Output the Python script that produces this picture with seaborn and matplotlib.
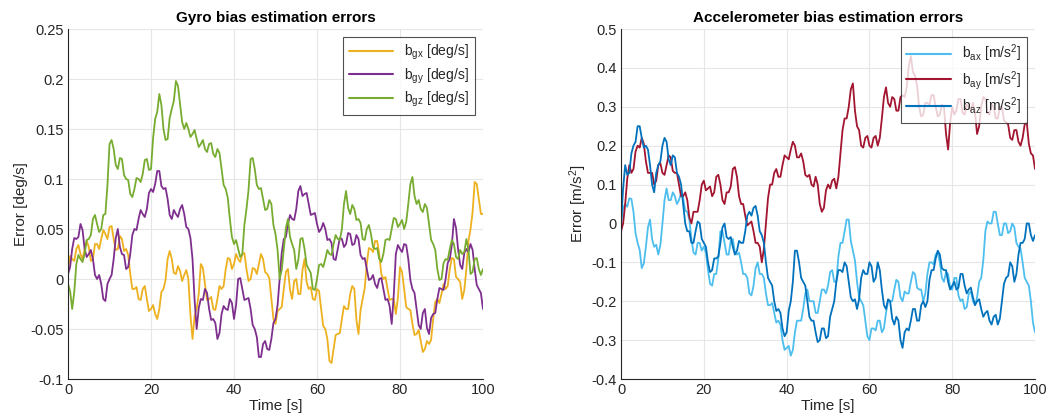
import numpy as np
import pandas as pd
import matplotlib
matplotlib.use("Agg")
import matplotlib.pyplot as plt
import seaborn as sns

time_s = [float(i) for i in range(0, 101)]
time_half = [i + 0.5 for i in range(0, 100)]

# ---- Gyro bias errors [deg/s], whole seconds ----
b_gx = [0.010, 0.020, 0.030, 0.025, 0.030, 0.032, 0.020, 0.035, 0.040, 0.045,
        0.052, 0.040, 0.030, 0.040, 0.030, 0.005, -0.010, -0.020, -0.010, -0.020,
        -0.030, -0.035, -0.030, -0.010, 0.020, 0.020, 0.005, 0.008, 0.004, 0.000,
        -0.060, -0.030, 0.015, -0.005, -0.020, -0.030, -0.020, -0.010, 0.010, 0.020,
        0.015, 0.020, 0.025, 0.010, 0.000, 0.010, 0.015, 0.020, 0.005, -0.020,
        -0.045, -0.030, -0.010, 0.010, -0.020, 0.000, -0.015, 0.020, -0.010, -0.020,
        -0.010, -0.030, -0.050, -0.082, -0.070, -0.055, -0.040, -0.030, -0.015, -0.010,
        -0.055, -0.020, 0.015, 0.030, 0.038, 0.025, 0.000, -0.010, -0.020, -0.035,
        0.012, -0.010, -0.030, -0.045, -0.055, -0.062, -0.070, -0.065, -0.040, -0.020,
        -0.015, -0.010, 0.010, 0.020, 0.000, -0.020, 0.010, 0.050, 0.097, 0.080,
        0.065]
# half-second samples (noise between whole seconds)
b_gx_half = [0.023, 0.018, 0.034, 0.020, 0.038, 0.018, 0.035, 0.030, 0.049, 0.040,
             0.053, 0.029, 0.043, 0.028, 0.024, -0.010, -0.008, -0.021, -0.007, -0.032,
             -0.026, -0.040, -0.013, -0.001, 0.028, 0.006, 0.013, -0.002, 0.009, -0.036,
             -0.037, -0.015, 0.011, -0.021, -0.018, -0.031, -0.007, -0.007, 0.021, 0.010,
             0.025, 0.017, 0.026, -0.002, 0.011, 0.005, 0.025, 0.007, 0.001, -0.040,
             -0.032, -0.028, 0.007, -0.011, -0.002, -0.015, 0.009, -0.003, -0.008, -0.021,
             -0.012, -0.047, -0.060, -0.084, -0.056, -0.054, -0.027, -0.030, -0.007, -0.041,
             -0.031, -0.009, 0.031, 0.027, 0.038, 0.005, 0.002, -0.021, -0.020, -0.019,
             0.007, -0.028, -0.031, -0.056, -0.051, -0.073, -0.062, -0.061, -0.023, -0.024,
             -0.005, -0.007, 0.021, 0.002, -0.003, -0.011, 0.038, 0.067, 0.095, 0.065]

b_gy = [0.005, 0.030, 0.040, 0.055, 0.030, 0.025, 0.020, 0.000, -0.005, -0.022,
        0.000, 0.020, 0.050, 0.025, 0.010, 0.025, 0.050, 0.060, 0.065, 0.070,
        0.090, 0.095, 0.108, 0.090, 0.080, 0.060, 0.065, 0.070, 0.065, 0.050,
        0.020, -0.050, -0.020, -0.010, -0.030, -0.040, -0.060, -0.035, -0.030, -0.020,
        -0.040, 0.000, -0.010, -0.020, -0.030, -0.050, -0.078, -0.065, -0.070, -0.060,
        -0.040, 0.000, 0.040, 0.055, 0.060, 0.070, 0.093, 0.085, 0.075, 0.065,
        0.055, 0.050, 0.050, 0.040, 0.020, 0.030, 0.040, 0.035, 0.045, 0.035,
        0.040, 0.020, 0.010, 0.000, -0.005, 0.000, -0.010, -0.020, -0.045, 0.025,
        0.030, 0.035, 0.020, -0.010, -0.030, -0.050, -0.030, -0.055, -0.035, -0.020,
        -0.010, 0.000, 0.020, 0.060, 0.030, 0.010, 0.030, 0.035, 0.010, -0.010,
        -0.030]
b_gy_half = [0.012, 0.041, 0.042, 0.049, 0.022, 0.029, 0.004, 0.004, -0.020, -0.005,
             0.004, 0.041, 0.032, 0.024, 0.012, 0.044, 0.049, 0.069, 0.062, 0.086,
             0.087, 0.108, 0.093, 0.091, 0.064, 0.069, 0.062, 0.074, 0.052, 0.041,
             -0.021, -0.029, -0.021, -0.014, -0.041, -0.044, -0.054, -0.027, -0.031, -0.024,
             -0.026, 0.001, -0.021, -0.019, -0.046, -0.058, -0.078, -0.062, -0.071, -0.044,
             -0.026, 0.026, 0.042, 0.064, 0.059, 0.088, 0.083, 0.086, 0.064, 0.066,
             0.047, 0.056, 0.039, 0.036, 0.019, 0.041, 0.032, 0.046, 0.034, 0.044,
             0.024, 0.021, -0.001, 0.004, -0.009, 0.001, -0.021, -0.027, -0.016, 0.034,
             0.027, 0.034, -0.001, -0.014, -0.046, -0.034, -0.049, -0.039, -0.034, -0.009,
             -0.011, 0.016, 0.034, 0.051, 0.014, 0.026, 0.027, 0.029, -0.006, -0.014]

b_gz = [-0.005, -0.030, 0.015, 0.020, 0.025, 0.040, 0.060, 0.055, 0.050, 0.065,
        0.135, 0.130, 0.110, 0.120, 0.100, 0.085, 0.090, 0.100, 0.105, 0.120,
        0.110, 0.160, 0.185, 0.150, 0.140, 0.170, 0.198, 0.175, 0.150, 0.150,
        0.145, 0.140, 0.135, 0.130, 0.135, 0.125, 0.130, 0.110, 0.090, 0.060,
        0.035, 0.030, 0.025, 0.070, 0.120, 0.110, 0.090, 0.080, 0.070, 0.075,
        0.045, 0.000, 0.030, 0.060, 0.035, 0.010, 0.040, 0.030, 0.010, -0.010,
        0.000, 0.015, 0.020, 0.025, 0.035, 0.040, 0.050, 0.088, 0.065, 0.070,
        0.060, 0.040, 0.050, 0.045, 0.030, 0.020, 0.025, 0.040, 0.050, 0.060,
        0.055, 0.050, 0.075, 0.102, 0.075, 0.070, 0.075, 0.055, 0.035, 0.010,
        0.000, 0.020, 0.030, 0.035, 0.020, 0.025, 0.040, 0.005, 0.020, 0.010,
        0.010]
b_gz_half = [-0.012, -0.013, 0.024, 0.017, 0.039, 0.044, 0.064, 0.047, 0.064, 0.094,
             0.139, 0.114, 0.121, 0.104, 0.099, 0.082, 0.101, 0.097, 0.119, 0.109,
             0.141, 0.167, 0.174, 0.139, 0.161, 0.178, 0.193, 0.157, 0.156, 0.142,
             0.149, 0.132, 0.139, 0.127, 0.136, 0.122, 0.126, 0.094, 0.081, 0.042,
             0.039, 0.022, 0.054, 0.089, 0.121, 0.094, 0.091, 0.069, 0.079, 0.054,
             0.029, 0.009, 0.051, 0.042, 0.029, 0.019, 0.041, 0.014, 0.006, -0.011,
             0.014, 0.012, 0.029, 0.024, 0.044, 0.039, 0.075, 0.071, 0.074, 0.059,
             0.056, 0.039, 0.054, 0.032, 0.031, 0.017, 0.039, 0.039, 0.061, 0.052,
             0.059, 0.057, 0.095, 0.083, 0.079, 0.067, 0.071, 0.039, 0.029, -0.001,
             0.016, 0.019, 0.039, 0.022, 0.029, 0.027, 0.029, 0.007, 0.021, 0.004]

# ---- Accelerometer bias errors [m/s^2] ----
b_ax = [0.000, 0.050, 0.065, 0.030, -0.050, -0.115, -0.060, 0.010, -0.060, -0.080,
        0.000, 0.090, 0.060, 0.070, 0.060, 0.065, 0.030, -0.040, -0.080, -0.050,
        -0.060, -0.120, -0.160, -0.130, -0.020, -0.050, -0.080, -0.040, -0.080, -0.100,
        -0.130, -0.180, -0.160, -0.100, -0.130, -0.180, -0.210, -0.230, -0.250, -0.300,
        -0.320, -0.340, -0.280, -0.250, -0.220, -0.170, -0.200, -0.230, -0.200, -0.170,
        -0.160, -0.120, -0.150, -0.050, -0.020, 0.010, -0.070, -0.150, -0.200, -0.250,
        -0.300, -0.270, -0.250, -0.280, -0.230, -0.200, -0.170, -0.150, -0.200, -0.180,
        -0.150, -0.130, -0.170, -0.200, -0.130, -0.100, -0.080, -0.100, -0.150, -0.130,
        -0.170, -0.140, -0.200, -0.220, -0.180, -0.200, -0.190, -0.140, -0.020, 0.000,
        0.030, 0.000, -0.030, 0.000, -0.020, -0.010, -0.060, -0.100, -0.150, -0.200,
        -0.280]
b_ax_half = [0.040, 0.043, 0.063, -0.025, -0.068, -0.103, -0.010, -0.040, -0.055, -0.055,
             0.060, 0.060, 0.080, 0.050, 0.078, 0.033, 0.010, -0.075, -0.050, -0.070,
             -0.075, -0.155, -0.130, -0.090, -0.020, -0.080, -0.045, -0.075, -0.075, -0.130,
             -0.140, -0.185, -0.115, -0.130, -0.140, -0.210, -0.205, -0.255, -0.260, -0.325,
             -0.315, -0.325, -0.250, -0.250, -0.180, -0.200, -0.200, -0.230, -0.170, -0.180,
             -0.125, -0.150, -0.085, -0.050, 0.010, -0.045, -0.095, -0.190, -0.210, -0.290,
             -0.270, -0.275, -0.250, -0.270, -0.200, -0.200, -0.145, -0.190, -0.175, -0.180,
             -0.125, -0.165, -0.170, -0.180, -0.100, -0.105, -0.075, -0.140, -0.125, -0.165,
             -0.140, -0.185, -0.195, -0.215, -0.175, -0.210, -0.150, -0.095, 0.005, 0.000,
             0.030, -0.030, 0.000, -0.025, 0.000, -0.050, -0.065, -0.140, -0.160, -0.255]

b_ay = [-0.020, 0.050, 0.150, 0.140, 0.200, 0.220, 0.160, 0.130, 0.100, 0.150,
        0.130, 0.150, 0.170, 0.130, 0.100, 0.070, 0.060, 0.000, 0.030, 0.060,
        0.110, 0.090, 0.070, 0.120, 0.100, 0.050, 0.080, 0.140, 0.120, 0.050,
        0.020, 0.000, -0.020, -0.050, -0.100, 0.000, 0.100, 0.130, 0.120, 0.150,
        0.170, 0.190, 0.200, 0.170, 0.160, 0.120, 0.100, 0.120, 0.050, 0.040,
        0.100, 0.110, 0.090, 0.180, 0.270, 0.300, 0.360, 0.250, 0.200, 0.220,
        0.200, 0.220, 0.200, 0.270, 0.350, 0.300, 0.320, 0.290, 0.330, 0.350,
        0.430, 0.380, 0.300, 0.280, 0.310, 0.330, 0.300, 0.280, 0.300, 0.190,
        0.300, 0.290, 0.320, 0.280, 0.300, 0.310, 0.230, 0.300, 0.320, 0.280,
        0.300, 0.270, 0.300, 0.260, 0.220, 0.240, 0.210, 0.220, 0.260, 0.180,
        0.140]
b_ay_half = [0.000, 0.115, 0.130, 0.185, 0.195, 0.205, 0.130, 0.130, 0.110, 0.155,
             0.125, 0.175, 0.135, 0.130, 0.070, 0.080, 0.015, 0.030, 0.030, 0.100,
             0.085, 0.095, 0.080, 0.125, 0.060, 0.080, 0.095, 0.145, 0.070, 0.050,
             -0.005, 0.005, -0.050, -0.060, -0.065, 0.065, 0.100, 0.140, 0.120, 0.175,
             0.165, 0.210, 0.170, 0.180, 0.125, 0.125, 0.095, 0.100, 0.030, 0.085,
             0.090, 0.115, 0.120, 0.240, 0.270, 0.345, 0.290, 0.240, 0.195, 0.225,
             0.195, 0.225, 0.220, 0.325, 0.310, 0.325, 0.290, 0.325, 0.325, 0.405,
             0.390, 0.355, 0.275, 0.310, 0.305, 0.330, 0.275, 0.305, 0.230, 0.260,
             0.280, 0.320, 0.285, 0.305, 0.290, 0.285, 0.250, 0.325, 0.285, 0.305,
             0.270, 0.300, 0.265, 0.255, 0.215, 0.240, 0.200, 0.255, 0.205, 0.175]

b_az = [0.000, 0.150, 0.130, 0.200, 0.250, 0.220, 0.200, 0.150, 0.080, 0.150,
        0.200, 0.210, 0.150, 0.170, 0.120, 0.050, -0.020, -0.050, -0.020, 0.000,
        -0.050, -0.100, -0.120, -0.090, -0.050, 0.000, -0.040, -0.060, -0.070, -0.050,
        -0.020, 0.030, 0.040, 0.020, -0.030, -0.100, -0.150, -0.200, -0.220, -0.270,
        -0.280, -0.200, -0.070, -0.100, -0.150, -0.200, -0.250, -0.280, -0.300, -0.270,
        -0.290, -0.220, -0.150, -0.120, -0.100, -0.150, -0.200, -0.220, -0.140, -0.130,
        -0.100, -0.150, -0.100, -0.170, -0.220, -0.200, -0.260, -0.250, -0.320, -0.270,
        -0.250, -0.220, -0.250, -0.200, -0.200, -0.120, -0.090, -0.080, -0.120, -0.150,
        -0.160, -0.170, -0.130, -0.160, -0.170, -0.190, -0.200, -0.220, -0.230, -0.250,
        -0.240, -0.260, -0.200, -0.140, -0.100, -0.150, -0.080, -0.050, 0.000, -0.030,
        -0.030]
b_az_half = [0.090, 0.125, 0.180, 0.210, 0.250, 0.195, 0.190, 0.100, 0.130, 0.160,
             0.220, 0.165, 0.175, 0.130, 0.100, 0.000, -0.020, -0.050, 0.005, -0.040,
             -0.060, -0.125, -0.090, -0.085, -0.010, -0.035, -0.035, -0.080, -0.045, -0.050,
             0.020, 0.020, 0.045, -0.020, -0.050, -0.140, -0.160, -0.225, -0.230, -0.290,
             -0.225, -0.150, -0.070, -0.140, -0.160, -0.240, -0.250, -0.305, -0.270, -0.295,
             -0.240, -0.200, -0.120, -0.125, -0.110, -0.190, -0.195, -0.195, -0.120, -0.130,
             -0.110, -0.140, -0.120, -0.210, -0.195, -0.245, -0.240, -0.300, -0.280, -0.275,
             -0.220, -0.250, -0.210, -0.215, -0.145, -0.120, -0.070, -0.115, -0.120, -0.170,
             -0.150, -0.165, -0.130, -0.180, -0.165, -0.210, -0.195, -0.240, -0.225, -0.260,
             -0.235, -0.245, -0.155, -0.135, -0.110, -0.130, -0.050, -0.040, 0.000, -0.045]

gyro_labels = [r"b$_{gx}$ [deg/s]", r"b$_{gy}$ [deg/s]", r"b$_{gz}$ [deg/s]"]
acc_labels = [r"b$_{ax}$ [m/s$^{2}$]", r"b$_{ay}$ [m/s$^{2}$]", r"b$_{az}$ [m/s$^{2}$]"]
gyro_colors = ["#EDB120", "#7E2F8E", "#77AC30"]
acc_colors = ["#4DBEEE", "#A2142F", "#0072BD"]

sns.set_theme(style="whitegrid")
plt.rcParams["font.family"] = ["Liberation Sans", "DejaVu Sans"]
plt.rcParams["mathtext.default"] = "regular"


def build(series, labels):
    frames = []
    for (whole, half), lab in zip(series, labels):
        frames.append(pd.DataFrame({"t": time_s + time_half, "v": whole + half, "s": lab}))
    return pd.concat(frames, ignore_index=True)


gyro_df = build([(b_gx, b_gx_half), (b_gy, b_gy_half), (b_gz, b_gz_half)], gyro_labels)
acc_df = build([(b_ax, b_ax_half), (b_ay, b_ay_half), (b_az, b_az_half)], acc_labels)

fig = plt.figure(figsize=(10.58, 4.18), dpi=100)
ax1 = fig.add_axes([0.0643, 0.0933, 0.3922, 0.8373])
ax2 = fig.add_axes([0.587, 0.0933, 0.3913, 0.8373])

sns.lineplot(data=gyro_df, x="t", y="v", hue="s", palette=gyro_colors, ax=ax1,
             linewidth=1.3, estimator=None, sort=True)
sns.lineplot(data=acc_df, x="t", y="v", hue="s", palette=acc_colors, ax=ax2,
             linewidth=1.3, estimator=None, sort=True)

configs = [
    (ax1, "Gyro bias estimation errors", "Error [deg/s]", (-0.1, 0.25), np.arange(-0.1, 0.2501, 0.05),
     ["-0.1", "-0.05", "0", "0.05", "0.1", "0.15", "0.2", "0.25"]),
    (ax2, "Accelerometer bias estimation errors", r"Error [m/s$^{2}$]", (-0.4, 0.5), np.arange(-0.4, 0.501, 0.1),
     ["-0.4", "-0.3", "-0.2", "-0.1", "0", "0.1", "0.2", "0.3", "0.4", "0.5"]),
]
for ax, title, ylab, ylim, yt, ytl in configs:
    ax.set_xlim(0, 100)
    ax.set_ylim(*ylim)
    ax.set_xticks([0, 20, 40, 60, 80, 100])
    ax.set_yticks(yt)
    ax.set_yticklabels(ytl)
    ax.set_title(title, fontsize=11, fontweight="bold", color="#000000", pad=5)
    ax.set_xlabel("Time [s]", fontsize=11, color="#262626", labelpad=1)
    ax.set_ylabel(ylab, fontsize=11, color="#262626", labelpad=2)
    ax.tick_params(axis="both", labelsize=10.5, colors="#262626", direction="in", length=3, pad=3)
    ax.grid(True, color="#e6e6e6", linewidth=0.8)
    ax.set_facecolor("white")
    for side in ["top", "right"]:
        ax.spines[side].set_visible(False)
    for side in ["left", "bottom"]:
        ax.spines[side].set_color("#262626")
        ax.spines[side].set_linewidth(0.8)
    leg = ax.legend(loc="upper right", fontsize=10, frameon=True, fancybox=False,
                    handlelength=3.2, borderaxespad=0.6, labelspacing=0.3)
    leg.get_frame().set_edgecolor("#262626")
    leg.get_frame().set_linewidth(0.8)
    for line in leg.get_lines():
        line.set_linewidth(1.5)

fig.savefig("out.png", dpi=100, facecolor="white")
